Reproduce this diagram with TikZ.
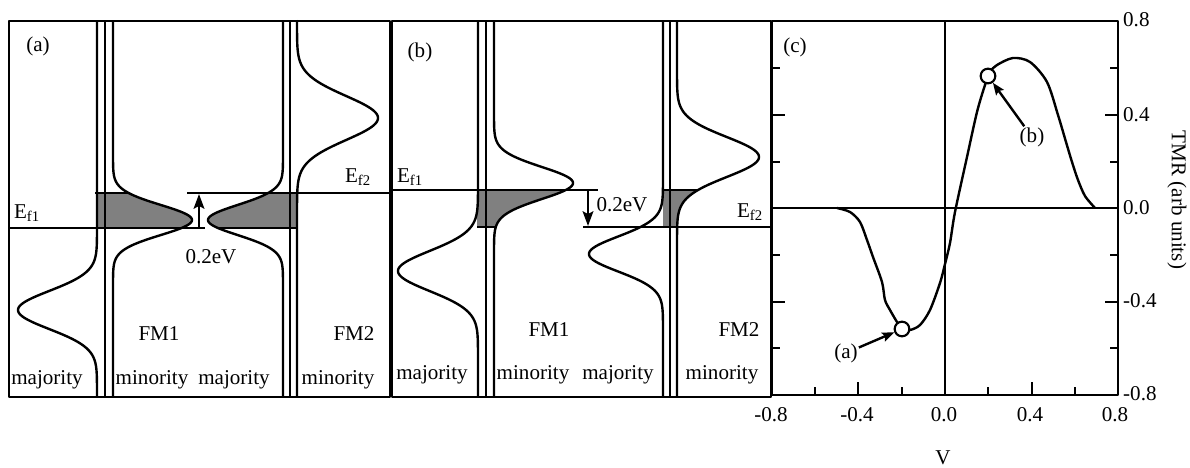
\documentclass[tikz,border=0pt]{standalone}
\usepackage{fontspec}
\setmainfont{Liberation Serif}
\usetikzlibrary{arrows.meta}
\begin{document}
\begin{tikzpicture}[x=0.75pt,y=-0.75pt,line width=1.8pt,line join=round,
  every node/.style={font=\fontsize{15.8}{18}\selectfont, inner sep=0pt},
  shade/.style={fill=black!50},
  pt/.style={circle, draw, fill=white, line width=1.6pt, minimum size=11pt, inner sep=0pt},
  efarrow/.style={-{Stealth[length=11pt,width=8pt,inset=2pt]}},
  ptarrow/.style={-{Stealth[length=9pt,width=7pt,inset=1.5pt]}}]
\useasboundingbox (0,0) rectangle (1190,468);

% ---------- gray regions ----------
\fill[shade] (97,193) -- plot[domain=193:228, samples=40, variable=\t] ({113+79*exp(-0.5*((\t-220)/15)*((\t-220)/15))},\t) -- (97,228) -- cycle;
\fill[shade] (297,193) -- plot[domain=193:228, samples=40, variable=\t] ({283-75*exp(-0.5*((\t-220)/15)*((\t-220)/15))},\t) -- (297,228) -- cycle;
\fill[shade] (477,190) -- plot[domain=190:227, samples=40, variable=\t] ({494+79*exp(-0.5*((\t-183)/16)*((\t-183)/16))},\t) -- (477,227) -- cycle;
\fill[shade] (663,190) -- plot[domain=190:227, samples=40, variable=\t] ({677+82*exp(-0.5*((\t-157)/20)*((\t-157)/20))},\t) -- (663,227) -- cycle;

% ---------- panel (a) ----------
\draw (9,21) rectangle (390,397);
\draw (105,21) -- (105,397);
\draw (290,21) -- (290,397);
\draw (97,21) -- plot[domain=215:397, samples=150, variable=\t] ({97-79*exp(-0.5*((\t-310)/19)*((\t-310)/19))},\t);
\draw (113,21) -- plot[domain=145:295, samples=150, variable=\t] ({113+79*exp(-0.5*((\t-220)/15)*((\t-220)/15))},\t) -- (113,397);
\draw (283,21) -- plot[domain=145:295, samples=150, variable=\t] ({283-75*exp(-0.5*((\t-220)/15)*((\t-220)/15))},\t) -- (283,397);
\draw (297,21) -- plot[domain=21:228, samples=150, variable=\t] ({297+81*exp(-0.5*((\t-118)/22)*((\t-118)/22))},\t) -- (297,397);
\draw (95,193) -- (129,193);
\draw (218,228) -- (298,228);
\draw (9,228) -- (205,228);
\draw (187,193) -- (390,193);
\coordinate (aArrS) at (199,228);
\coordinate (aArrE) at (199,194);
\draw[efarrow] (aArrS) -- (aArrE);

\node (aLab) at (38,46) {(a)};
\node (aEf1) at (27,213) {E\textsubscript{f1}};
\node (aEf2) at (358,177) {E\textsubscript{f2}};
\node (aEV) at (211,257) {0.2eV};
\node (aFM1) at (159,334) {FM1};
\node (aFM2) at (354,334) {FM2};
\node (aMaj1) at (47,380) {majority};
\node (aMin1) at (152,380) {minority};
\node (aMaj2) at (234,380) {majority};
\node (aMin2) at (338,380) {minority};

% ---------- panel (b) ----------
\draw (392,21) rectangle (771,397);
\draw (486,21) -- (486,397);
\draw (670,21) -- (670,397);
\draw (478,21) -- plot[domain=171:371, samples=150, variable=\t] ({478-80*exp(-0.5*((\t-271)/20)*((\t-271)/20))},\t) -- (478,397);
\draw (494,21) -- plot[domain=103:263, samples=150, variable=\t] ({494+79*exp(-0.5*((\t-183)/16)*((\t-183)/16))},\t) -- (494,397);
\draw (663,21) -- plot[domain=166:342, samples=150, variable=\t] ({663-74*exp(-0.5*((\t-254)/17.5)*((\t-254)/17.5))},\t) -- (663,397);
\draw (677,21) -- plot[domain=57:257, samples=150, variable=\t] ({677+82*exp(-0.5*((\t-157)/20)*((\t-157)/20))},\t) -- (677,397);
\draw (477,227) -- (497,227);
\draw (663,190) -- (698,190);
\draw (392,190) -- (598,190);
\draw (583,227) -- (771,227);
\coordinate (bArrS) at (588,190);
\coordinate (bArrE) at (588,226);
\draw[efarrow] (bArrS) -- (bArrE);

\node (bLab) at (420,52) {(b)};
\node (bEf1) at (410,177) {E\textsubscript{f1}};
\node (bEf2) at (750,212) {E\textsubscript{f2}};
\node (bEV) at (622,205) {0.2eV};
\node (bFM1) at (549,330) {FM1};
\node (bFM2) at (739,330) {FM2};
\node (bMaj1) at (432,375) {majority};
\node (bMin1) at (533,375) {minority};
\node (bMaj2) at (618,375) {majority};
\node (bMin2) at (722,375) {minority};

% ---------- panel (c) ----------
\draw (772,21) rectangle (1118,395);
\draw (772,208) -- (1118,208);
\draw (945,21) -- (945,395);
\foreach \yy/\len in {68/8, 115/13, 162/8, 255/8, 302/13, 348/8} {
  \draw (772,\yy) -- ++(\len,0);
  \draw (1118,\yy) -- ++(-\len,0);
}
\foreach \xx/\len in {815/8, 858/13, 902/8, 988/8, 1032/13, 1075/8} {
  \draw (\xx,395) -- ++(0,-\len);
}
\draw plot[smooth, tension=0.5] coordinates {(837,208) (850,212) (860,222) (867,240) (873,257) (882,282) (885,300) (890,310) (897,322) (902,329) (910,330) (920,325) (930,310) (940,283) (945,264) (950,243) (955,212) (967,157) (977,112) (985,85) (990,72) (997,65) (1013,58) (1030,62) (1047,82) (1058,115) (1066,142) (1072,162) (1078,180) (1085,196) (1095,208)};

\node[pt] (cPa) at (902,329) {};
\node[pt] (cPb) at (988,76) {};
\node (cLa) at (846,353) {(a)};
\node (cLb) at (1032,137) {(b)};
\draw[ptarrow] (cLa) -- (cPa);
\draw[ptarrow] (cLb) -- (cPb);
\node (cLab) at (795,47) {(c)};

\node[anchor=west] (y08) at (1122,20) {0.8};
\node[anchor=west] (y04) at (1122,115) {0.4};
\node[anchor=west] (y00) at (1122,208) {0.0};
\node[anchor=west] (ym04) at (1122,301) {-0.4};
\node[anchor=west] (ym08) at (1122,394) {-0.8};
\node (xm08) at (771,415) {-0.8};
\node (xm04) at (857,415) {-0.4};
\node (x00) at (944,415) {0.0};
\node (x04) at (1030,415) {0.4};
\node (x08) at (1115,415) {0.8};
\node (xlab) at (943,458) {V};
\node[rotate=-90] (ylab) at (1177,200) {TMR (arb units)};
\end{tikzpicture}
\end{document}
